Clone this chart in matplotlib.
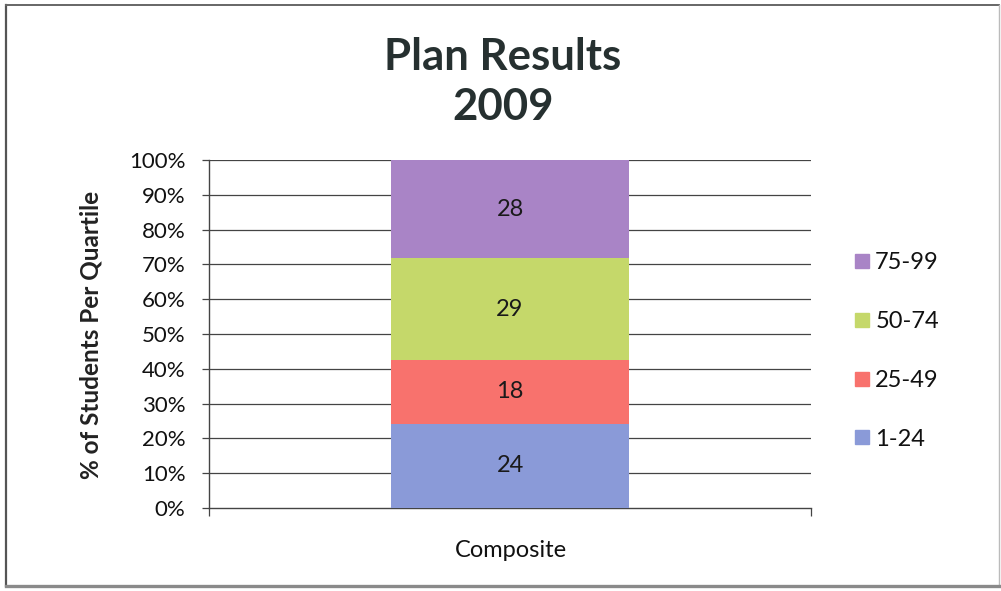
import matplotlib
matplotlib.use("Agg")
import matplotlib.pyplot as plt
from matplotlib.lines import Line2D
import numpy as np

# ---- data ----
categories = ["Composite"]
series_names = ["1-24", "25-49", "50-74", "75-99"]
series_values = [24, 18, 29, 28]
series_colors = ["#8A9AD8", "#F8726D", "#C5D86A", "#A984C6"]
yticks = [0, 10, 20, 30, 40, 50, 60, 70, 80, 90, 100]
ytick_labels = [f"{v}%" for v in yticks]
title_lines = ["Plan Results", "2009"]
ylabel = "% of Students Per Quartile"

FONT = "Lato"
plt.rcParams["font.family"] = [FONT, "DejaVu Sans"]

fig = plt.figure(figsize=(10.01, 5.91), dpi=100)
W, H = 1001, 591
ax = fig.add_axes([209 / W, 1 - 508 / H, (811 - 209) / W, (508 - 160) / H])

total = sum(series_values)
bottom = 0.0
for name, val, col in zip(series_names, series_values, series_colors):
    pct = val / total * 100
    ax.bar(0, pct, width=0.394, bottom=bottom, color=col, edgecolor="none",
           label=name, zorder=3)
    ax.text(0, bottom + pct / 2, str(val), ha="center", va="center",
            fontsize=17, color="#1a1a1a", zorder=4)
    bottom += pct

ax.set_xlim(-0.5, 0.5)
ax.set_ylim(0, 100)
ax.set_yticks(yticks)
ax.set_yticklabels(ytick_labels, fontsize=16, color="#111111")
ax.set_xticks([-0.5, 0.5])
ax.set_xticklabels(["", ""])
ax.tick_params(axis="y", direction="out", length=5, width=0.9, color="#444444", pad=12)
ax.tick_params(axis="x", direction="out", length=6, width=0.9, color="#444444")

for y in yticks[1:]:
    ax.axhline(y, color="#444444", lw=0.9, zorder=1)
for s in ["top", "right"]:
    ax.spines[s].set_visible(False)
ax.spines["left"].set_color("#444444")
ax.spines["left"].set_linewidth(1.0)
ax.spines["bottom"].set_color("#444444")
ax.spines["bottom"].set_linewidth(1.0)

# x category label
fig.text(511 / W, 1 - 557 / H, categories[0], ha="center", va="baseline",
         fontsize=17, color="#111111")

# y label
fig.text(91 / W, 1 - 335 / H, ylabel, rotation=90, ha="center", va="center",
         fontsize=17.5, fontweight="bold", color="#222222")

# title
fig.text(503 / W, 1 - 70 / H, title_lines[0], ha="center", va="baseline",
         fontsize=31.5, fontweight="bold", color="#263030")
fig.text(503 / W, 1 - 120 / H, title_lines[1], ha="center", va="baseline",
         fontsize=31.5, fontweight="bold", color="#263030")

# legend (reversed order)
handles = [Line2D([], [], marker="s", linestyle="none", markersize=10.5,
                  markerfacecolor=c, markeredgecolor=c)
           for c in series_colors][::-1]
labels = series_names[::-1]
fig.legend(handles, labels, loc="center left", bbox_to_anchor=(841 / W, 1 - 351 / H),
           frameon=False, fontsize=17, labelspacing=1.6, handlelength=0.8,
           handletextpad=0.15, borderpad=0, labelcolor="#111111")

# figure border
fig.add_artist(Line2D([6 / W, 6 / W], [1 - 5 / H, 1 - 586 / H], transform=fig.transFigure,
                      color="#555555", lw=1.6))
fig.add_artist(Line2D([6 / W, 999 / W], [1 - 5 / H, 1 - 5 / H], transform=fig.transFigure,
                      color="#666666", lw=1.4))
fig.add_artist(Line2D([999 / W, 999 / W], [1 - 5 / H, 1 - 586 / H], transform=fig.transFigure,
                      color="#bbbbbb", lw=1.0))
fig.add_artist(Line2D([6 / W, 1001 / W], [1 - 586 / H, 1 - 586 / H], transform=fig.transFigure,
                      color="#8a8a8a", lw=2.4))

fig.savefig("out.png", dpi=100, facecolor="white")
